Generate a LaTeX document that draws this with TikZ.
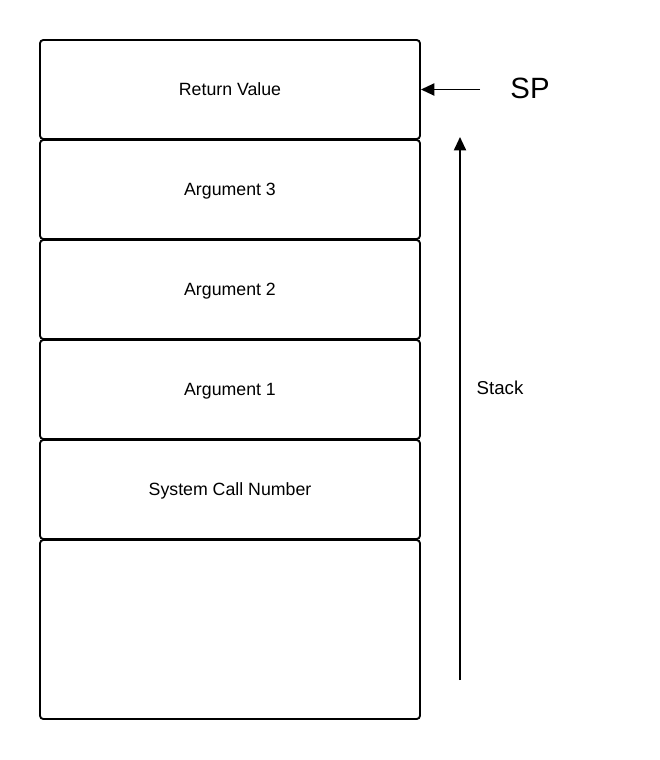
\documentclass[tikz,border=0pt]{standalone}
\usepackage{fontspec}
\setmainfont{Liberation Sans}
\usetikzlibrary{arrows.meta}
\begin{document}
\begin{tikzpicture}[x=0.75pt, y=-0.75pt, font=\fontsize{13.3}{16}\selectfont,
      >={Triangle[length=10pt, width=9pt]},
      slot/.style={draw, line width=1.4pt, rounded corners=2.5pt, minimum width=285pt, minimum height=74.25pt, inner sep=0pt, text depth=0pt}]
    \useasboundingbox (0,0) rectangle (660,760);
    \node[slot] (ret) at (230,89.5) {Return Value};
    \node[slot] (arg3) at (230,189.5) {Argument 3};
    \node[slot] (arg2) at (230,289.5) {Argument 2};
    \node[slot] (arg1) at (230,389.5) {Argument 1};
    \node[slot] (sysno) at (230,489.5) {System Call Number};
    \node[slot, minimum height=134.25pt] (base) at (230,629.5) {};
    \node[font=\fontsize{22}{26}\selectfont] (sp) at (530,88) {SP};
    \node[font=\fontsize{14}{17}\selectfont] (stack) at (500,388) {Stack};
    \coordinate (spfrom) at (480,89.5);
    \coordinate (stackbot) at (460,680);
    \coordinate (stacktop) at (460,137);
    \draw[->, line width=1.4pt] (spfrom) -- (ret.east);
    \draw[->, line width=1.4pt] (stackbot) -- (stacktop);
  \end{tikzpicture}
\end{document}
